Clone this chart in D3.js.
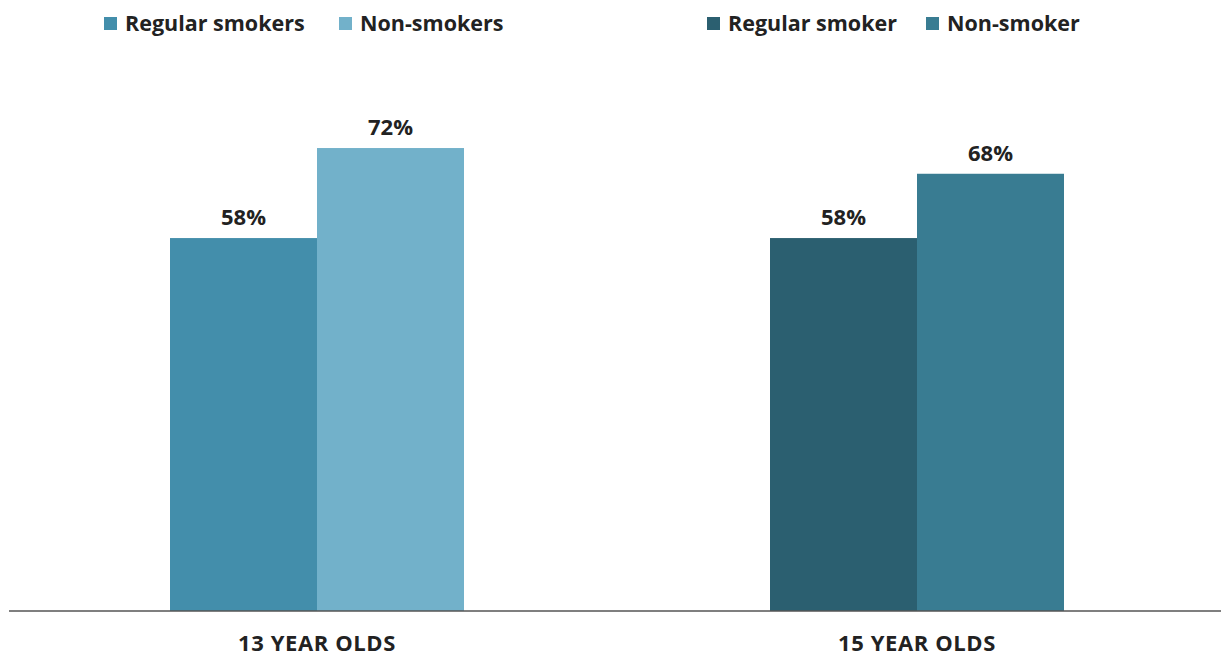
<!DOCTYPE html>
<html><head><meta charset="utf-8">
<script src="https://cdn.jsdelivr.net/npm/d3@7"></script>
<style>body{margin:0;background:#fff}svg{display:block}text{font-family:"Open Sans",sans-serif;font-weight:700;fill:#222}</style>
</head><body><svg id="c" width="1221" height="657"></svg>
<script>
const groups = ["13 YEAR OLDS", "15 YEAR OLDS"];
const seriesNames = [["Regular smokers", "Non-smokers"], ["Regular smoker", "Non-smoker"]];
const values = [[58, 72], [58, 68]];
const colors = [["#438EAB", "#72B1CA"], ["#2B5F70", "#397C92"]];

const svg = d3.select("#c");
const baseY = 611;
const x = d3.scaleBand().domain(groups).range([17, 1217]).paddingInner(0).paddingOuter(0);
const y = d3.scaleLinear().domain([0, 100]).range([baseY, baseY - 643]);
const barW = 147;

groups.forEach((g, gi) => {
  const cx = x(g) + x.bandwidth() / 2;
  const xi = d3.scaleBand().domain([0, 1]).range([cx - barW, cx + barW]);
  values[gi].forEach((v, i) => {
    svg.append("rect").attr("x", xi(i)).attr("y", y(v)).attr("width", xi.bandwidth())
      .attr("height", y(0) - y(v)).attr("fill", colors[gi][i]);
    svg.append("text").attr("x", xi(i) + xi.bandwidth() / 2).attr("y", y(v) - 13)
      .attr("text-anchor", "middle").attr("font-size", 22).text(v + "%");
  });
});

svg.append("line").attr("x1", 9).attr("x2", 1221).attr("y1", baseY).attr("y2", baseY)
  .attr("stroke", "#555").attr("stroke-width", 1.5);

const xAxis = svg.append("g").attr("transform", `translate(0,${baseY})`)
  .call(d3.axisBottom(x).tickSize(0).tickPadding(0));
xAxis.select(".domain").remove();
xAxis.selectAll("text").attr("y", 40).attr("dy", 0).attr("font-size", 22)
  .style("letter-spacing", "0.6px")
  .style("font-family", '"Open Sans",sans-serif').style("font-weight", 700).attr("fill", "#222");

// legends
const legendPos = [[104, 339], [707, 926]];
groups.forEach((g, gi) => {
  seriesNames[gi].forEach((n, i) => {
    const lx = legendPos[gi][i];
    svg.append("rect").attr("x", lx).attr("y", 17).attr("width", 13).attr("height", 13).attr("fill", colors[gi][i]);
    svg.append("text").attr("x", lx + 21).attr("y", 31).attr("font-size", 21.5).text(n);
  });
});
</script></body></html>
